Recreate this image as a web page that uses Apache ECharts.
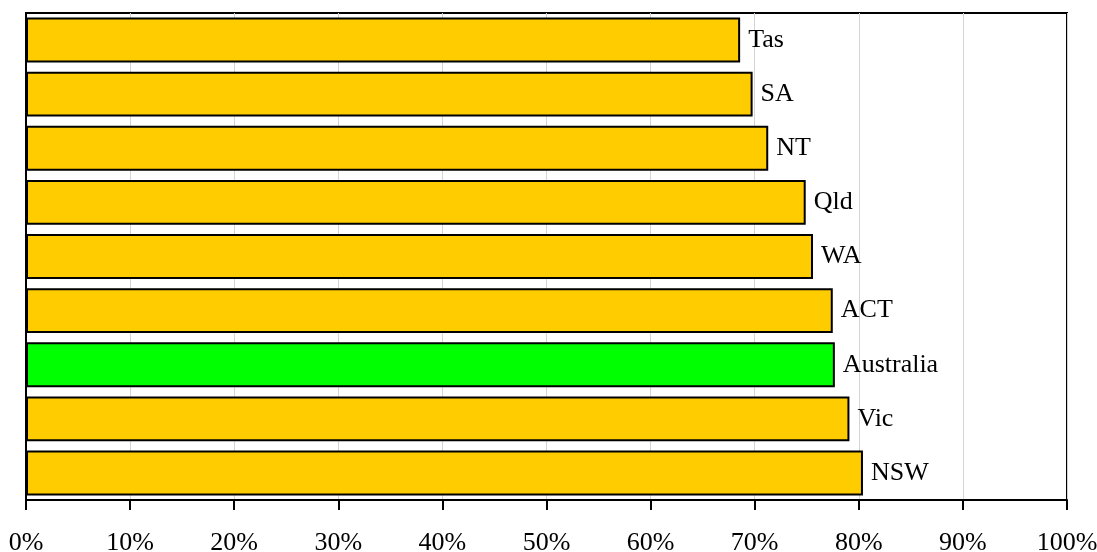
<!DOCTYPE html>
<html>
<head>
<meta charset="utf-8">
<style>
  html, body { margin: 0; padding: 0; background: #fff; }
  #chart { width: 1097px; height: 552px; }
</style>
<script src="https://cdn.jsdelivr.net/npm/echarts@6/dist/echarts.min.js"></script>
</head>
<body>
<div id="chart"></div>
<script>
// States and territories, listed bottom to top
const categories = ['NSW', 'Vic', 'Australia', 'ACT', 'WA', 'Qld', 'NT', 'SA', 'Tas'];
// Share (%) for each category
const values = [80.4, 79.1, 77.7, 77.5, 75.6, 74.9, 71.3, 69.8, 68.6];
// Category highlighted as the national figure
const highlight = 'Australia';
const xTicks = [0, 10, 20, 30, 40, 50, 60, 70, 80, 90, 100];

const FONT = '"Liberation Serif", "Times New Roman", serif';

const chart = echarts.init(document.getElementById('chart'), null, { renderer: 'canvas' });

chart.setOption({
  animation: false,
  backgroundColor: '#ffffff',
  grid: {
    left: 26, right: 30, top: 13, bottom: 52,
    outerBoundsMode: 'none',
    containLabel: false,
    show: true, borderColor: '#000', borderWidth: 2, backgroundColor: 'transparent'
  },
  xAxis: {
    type: 'value',
    min: xTicks[0],
    max: xTicks[xTicks.length - 1],
    interval: 10,
    axisLine: { show: true, lineStyle: { color: '#000', width: 2 } },
    axisTick: { show: true, length: 10, lineStyle: { color: '#000', width: 2 } },
    axisLabel: {
      formatter: v => v + '%',
      color: '#000', fontFamily: FONT, fontSize: 26, margin: 30,
      hideOverlap: false
    },
    splitLine: { show: true, lineStyle: { color: '#d4d4d4', width: 1 } }
  },
  yAxis: {
    type: 'category',
    data: categories,
    axisLine: { show: true, lineStyle: { color: '#000', width: 2 } },
    axisTick: { show: false },
    axisLabel: { show: false },
    splitLine: { show: false }
  },
  series: [{
    type: 'bar',
    data: values.map((v, i) => ({
      value: v,
      itemStyle: { color: categories[i] === highlight ? '#00ff00' : '#ffcc00' }
    })),
    barCategoryGap: '17%',
    itemStyle: { borderColor: '#000', borderWidth: 2 },
    label: {
      show: true,
      position: 'right',
      distance: 8,
      formatter: p => categories[p.dataIndex],
      color: '#000', fontFamily: FONT, fontSize: 26
    }
  }]
});
</script>
</body>
</html>
